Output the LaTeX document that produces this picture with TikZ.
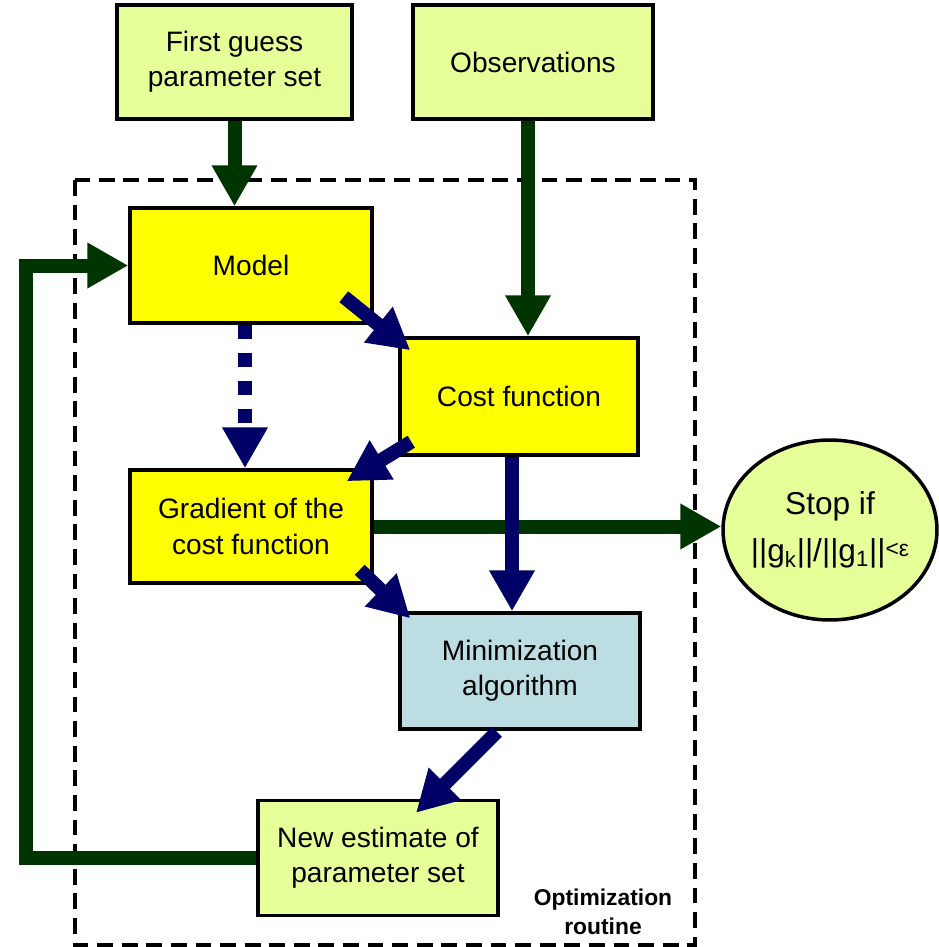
\documentclass[tikz,border=0pt]{standalone}
\usepackage{fontspec}
\setmainfont{Liberation Sans}
\usetikzlibrary{arrows.meta,calc,shapes.geometric}

\definecolor{paleGreen}{RGB}{230,255,153}
\definecolor{boxYellow}{RGB}{255,255,0}
\definecolor{paleBlue}{RGB}{188,222,227}
\definecolor{darkGreen}{RGB}{0,52,0}
\definecolor{darkNavy}{RGB}{0,0,102}

\tikzset{
  box/.style={draw, line width=2pt, align=center, inner sep=0pt,
    font=\fontsize{16}{20}\selectfont},
  greenarrow/.style={draw=darkGreen, line width=0.28cm, line join=miter,
    -{Triangle[length=0.82cm,width=0.86cm]}},
  navyarrow/.style={draw=darkNavy, line width=0.28cm,
    -{Triangle[length=0.82cm,width=0.86cm]}},
  routine/.style={draw, line width=2.2pt, dash pattern=on 9pt off 5pt}
}

\begin{document}
\begin{tikzpicture}[x=0.02cm, y=-0.02cm]
    \useasboundingbox (0,0) rectangle (938,947);
    \draw[routine] (75,180) rectangle (695,945);
    \node[font=\bfseries\fontsize{13}{16.5}\selectfont, align=center]
      (label) at (603,912) {Optimization\\routine};

    \node[box, fill=paleGreen, minimum width=4.7cm, minimum height=2.28cm]
      (first) at (234.5,62) {First guess\\parameter set};
    \node[box, fill=paleGreen, minimum width=4.8cm, minimum height=2.28cm]
      (obs) at (533,62) {Observations};
    \node[box, fill=boxYellow, minimum width=4.84cm, minimum height=2.3cm]
      (model) at (251,265.5) {Model};
    \node[box, fill=boxYellow, minimum width=4.76cm, minimum height=2.34cm]
      (cost) at (519,396.5) {Cost function};
    \node[box, fill=boxYellow, minimum width=4.84cm, minimum height=2.26cm]
      (grad) at (251,526.5) {Gradient of the\\cost function};
    \node[box, fill=paleBlue, minimum width=4.8cm, minimum height=2.32cm]
      (mini) at (520,671) {Minimization\\algorithm};
    \node[box, fill=paleGreen, minimum width=4.8cm, minimum height=2.3cm]
      (newest) at (378,858) {New estimate of\\parameter set};
    \node[box, ellipse, fill=paleGreen, minimum width=4.28cm,
      minimum height=3.6cm, inner xsep=-6pt, font=\fontsize{18}{25}\selectfont]
      (stop) at (830,530)
      {Stop if\\[2pt]||g\textsubscript{k}||/||g\textsubscript{1}||\raisebox{.3ex}{\fontsize{13}{15}\selectfont<ε}};

    \draw[greenarrow] (first.south) -- (first.south |- model.north);
    \draw[greenarrow] ([xshift=-0.1cm]obs.south) --
      ([xshift=-0.1cm]obs.south |- cost.north);
    \draw[greenarrow] (grad.east) -- (grad.east -| stop.west);
    \draw[greenarrow] (newest.west) -- ++(-230,0) |- (model.west);

    \draw[navyarrow] ($ (model.south east) + (-30,-28) $) --
      ($ (cost.north west) + (12,14) $);
    \draw[navyarrow] ($ (cost.south west) + (13,-15) $) --
      ($ (grad.north east) + (-27,13) $);
    \draw[navyarrow] ($ (grad.south east) + (-14,-15) $) --
      ($ (mini.north west) + (12,7) $);
    \draw[navyarrow] ($ (mini.south) + (-23,1) $) --
      ($ (newest.north) + (38,14) $);
    \draw[navyarrow] ([xshift=-0.14cm]cost.south) --
      ([xshift=-0.14cm]cost.south |- mini.north);
    \draw[navyarrow, dash pattern=on 0.28cm off 0.28cm]
      ([xshift=-0.12cm]model.south) -- ([xshift=-0.12cm]model.south |- grad.north);
  \end{tikzpicture}
\end{document}
